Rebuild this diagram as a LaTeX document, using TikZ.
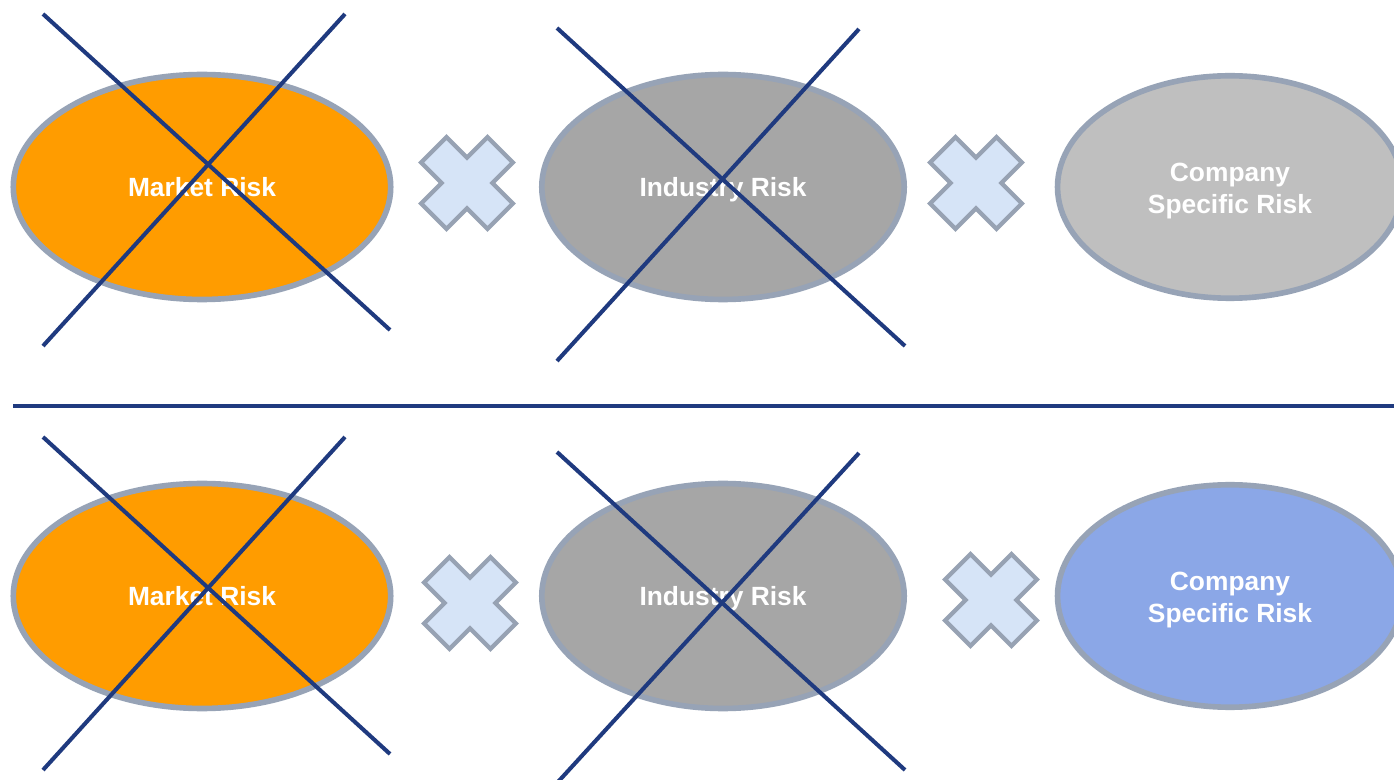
\documentclass[tikz,border=0pt]{standalone}
\usepackage{fontspec}
\setmainfont{Liberation Sans}
\usetikzlibrary{shapes.geometric}
\definecolor{riskorange}{HTML}{FF9C00}
\definecolor{riskgrey}{HTML}{A6A6A6}
\definecolor{risklight}{HTML}{BFBFBF}
\definecolor{riskblue}{HTML}{8BA7E7}
\definecolor{riskedge}{HTML}{97A3B6}
\definecolor{strikeblue}{HTML}{1F3A7F}
\definecolor{mulfill}{HTML}{D6E4F7}
\definecolor{muledge}{HTML}{97A2B3}
\tikzset{
  risk/.style={ellipse, draw=riskedge, line width=3.2pt, inner sep=0pt, align=center,
               text=white, font=\fontsize{15}{18}\selectfont\bfseries,
               text height=11pt, text depth=0pt},
  riskm/.style={risk, fill=riskorange, minimum width=7.55cm, minimum height=4.5cm},
  riski/.style={risk, fill=riskgrey, minimum width=7.25cm, minimum height=4.5cm},
  riskc/.style={risk, fill=risklight, minimum width=6.9cm, minimum height=4.45cm,
                text height=30.3pt},
  riskcb/.style={riskc, fill=riskblue},
  strike/.style={draw=strikeblue, line width=2.3pt},
  sep/.style={draw=strikeblue, line width=2.3pt},
  mulsign/.style={fill=mulfill, draw=muledge, line width=2.4pt, line join=miter},
}
\newcommand{\timessign}[2]{%
  \path[mulsign, shift={(#1,#2)}, rotate=45]
    (47,18) -- (18,18) -- (18,47) -- (-18,47) -- (-18,18) -- (-47,18) --
    (-47,-18) -- (-18,-18) -- (-18,-47) -- (18,-47) -- (18,-18) -- (47,-18) -- cycle;}

\begin{document}
\begin{tikzpicture}[x=0.02cm, y=-0.02cm]
  \useasboundingbox[fill=white] (0,0) rectangle (1394,780);

  % top row
  \node[riskm] (mkt1) at (202,187) {Market Risk};
  \node[riski] (ind1) at (723,187) {Industry Risk};
  \node[riskc] (cmp1) at (1230,187) {Company\\Specific Risk};
  \timessign{467}{183}
  \timessign{976}{183}
  \draw[strike] (43,14) -- (390,330);
  \draw[strike] (345,14) -- (43,346);
  \draw[strike] (557,28) -- (905,346);
  \draw[strike] (859,29) -- (557,361);

  % separator
  \draw[sep] (13,406) -- (1394,406);

  % bottom row
  \node[riskm] (mkt2) at (202,596) {Market Risk};
  \node[riski] (ind2) at (723,596) {Industry Risk};
  \node[riskcb] (cmp2) at (1230,596) {Company\\Specific Risk};
  \timessign{470}{603}
  \timessign{991}{600}
  \draw[strike] (43,437) -- (390,754);
  \draw[strike] (345,437) -- (43,770);
  \draw[strike] (557,452) -- (905,770);
  \draw[strike] (859,453) -- (557,783);
\end{tikzpicture}
\end{document}
